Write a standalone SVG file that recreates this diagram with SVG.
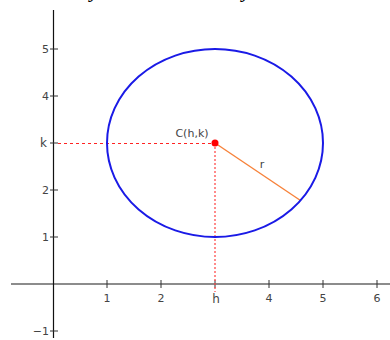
<svg xmlns="http://www.w3.org/2000/svg" width="390" height="340" viewBox="0 0 390 340">
<style>
.lbl{font-family:"DejaVu Sans",sans-serif;font-size:11px;fill:#444}
.tick{stroke:#333;stroke-width:1}
.cap{font-family:"Liberation Serif",serif;font-style:italic;font-size:22px;fill:#000}
</style>
<rect width="390" height="340" fill="#fff"/>
<text class="cap" x="90" y="-3">y</text>
<text class="cap" x="242" y="-3">y</text>
<g id="axes">
<line x1="11" y1="284" x2="390" y2="284" stroke="#666" stroke-width="1.5"/>
<line x1="53.5" y1="10" x2="53.5" y2="338" stroke="#111" stroke-width="1.2"/>
<g class="tick">
<line x1="107" y1="280" x2="107" y2="288"/>
<line x1="161" y1="280" x2="161" y2="288"/>
<line x1="269" y1="280" x2="269" y2="288"/>
<line x1="323" y1="280" x2="323" y2="288"/>
<line x1="377" y1="280" x2="377" y2="288"/>
<line x1="215" y1="280" x2="215" y2="288"/>
<line x1="50" y1="49" x2="58" y2="49"/>
<line x1="50" y1="96" x2="58" y2="96"/>
<line x1="50" y1="143" x2="58" y2="143"/>
<line x1="50" y1="190" x2="58" y2="190"/>
<line x1="50" y1="237" x2="58" y2="237"/>
<line x1="50" y1="331" x2="58" y2="331"/>
</g>
<g class="lbl" text-anchor="middle">
<text x="107" y="302">1</text>
<text x="161" y="302">2</text>
<text x="216" y="303" font-size="12">h</text>
<text x="269" y="302">4</text>
<text x="323" y="302">5</text>
<text x="377" y="302">6</text>
</g>
<g class="lbl" text-anchor="end">
<text x="49" y="53">5</text>
<text x="49" y="100">4</text>
<text x="47" y="147" font-size="12">k</text>
<text x="49" y="194">2</text>
<text x="49" y="241">1</text>
<text x="49" y="335">−1</text>
</g>
</g>
<g id="connectors">
<line x1="58" y1="143.5" x2="215" y2="143.5" stroke="#f22" stroke-width="1" stroke-dasharray="3,3"/>
<line x1="215" y1="143" x2="215" y2="292" stroke="#f55" stroke-width="1.8" stroke-dasharray="2,2" opacity="0.75"/>
<line x1="215" y1="143" x2="300.5" y2="200.5" stroke="#f7823a" stroke-width="1.4"/>
</g>
<g id="circle">
<ellipse cx="215" cy="143" rx="108" ry="94" fill="none" stroke="#1a1ae6" stroke-width="2"/>
</g>
<g id="center">
<circle cx="215" cy="143" r="3.5" fill="#f00"/>
<text class="lbl" x="192" y="137" text-anchor="middle" font-size="12">C(h,k)</text>
</g>
<g id="radius-label">
<text class="lbl" x="262" y="168" text-anchor="middle" font-size="12">r</text>
</g>
</svg>
